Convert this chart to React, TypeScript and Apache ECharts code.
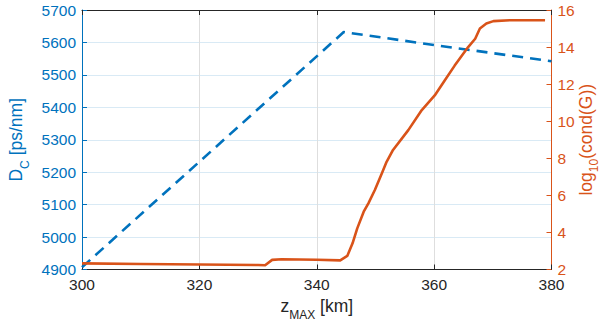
import React, { useEffect, useRef } from "react";
import * as echarts from "echarts";

// Dispersion compensation D_C versus z_MAX (left axis)
const kmDC = [300, 344.6, 360, 380];
const dcValues = [4907, 5632, 5592, 5542];

// log10 of the condition number of G versus z_MAX (right axis)
const kmCond = [
  300, 310, 320, 330, 331.2, 332.4, 334, 340, 344, 345.2, 346.1, 346.9, 348.0,
  348.8, 349.9, 351.1, 351.9, 353.0, 355.6, 357.9, 360.1, 361.8, 363.5, 365.8,
  367.0, 367.8, 368.9, 370.1, 372.9, 378.9,
];
const condValues = [
  2.33, 2.3, 2.27, 2.24, 2.23, 2.52, 2.55, 2.53, 2.49, 2.73, 3.41, 4.22, 5.12,
  5.57, 6.29, 7.19, 7.81, 8.45, 9.52, 10.6, 11.39, 12.2, 13.0, 14.0, 14.45,
  15.0, 15.27, 15.4, 15.45, 15.45,
];

const xTicks = { min: 300, max: 380, interval: 20 };
const leftTicks = { min: 4900, max: 5700, interval: 100 };
const rightTicks = { min: 2, max: 16, interval: 2 };

const BLUE = "#0072BD";
const ORANGE = "#D95319";
const DARK = "#262626";
const FONT = "'Liberation Sans', Arial, Helvetica, sans-serif";
const TICK_SIZE = 15.5;
const NAME_SIZE = 17.5;
const SUB_SIZE = 12;

// Both token kinds sit on the bottom of the line box; the extra bottom
// padding on the main text lifts it, so the subscript ends up lower.
function nameRich(color: string, lift = 6) {
  return {
    m: {
      color,
      fontFamily: FONT,
      fontSize: NAME_SIZE,
      lineHeight: 20,
      verticalAlign: "bottom" as const,
      padding: [0, 0, lift, 0],
    },
    s: {
      color,
      fontFamily: FONT,
      fontSize: SUB_SIZE,
      lineHeight: 14,
      verticalAlign: "bottom" as const,
    },
  };
}

const plain = (v: number) => String(v);

export default function App() {
  const ref = useRef<HTMLDivElement>(null);

  useEffect(() => {
    if (!ref.current) return;
    const chart = echarts.init(ref.current, undefined, { renderer: "svg" });

    const dcData = kmDC.map((x, i) => [x, dcValues[i]]);
    const condData = kmCond.map((x, i) => [x, condValues[i]]);

    chart.setOption({
      animation: false,
      backgroundColor: "#ffffff",
      grid: {
        left: 82,
        right: 53.5,
        top: 10,
        bottom: 57.5,
        containLabel: false,
        outerBoundsMode: "none",
      },
      xAxis: [
        {
          type: "value",
          position: "bottom",
          ...xTicks,
          name: "{m|z}{s|MAX}{m| [km]}",
          nameLocation: "middle",
          nameGap: 25.5,
          nameTextStyle: { rich: nameRich(DARK) },
          axisLine: { show: true, onZero: false, lineStyle: { color: DARK, width: 1 } },
          axisTick: { show: true, inside: true, length: 5, lineStyle: { color: DARK } },
          axisLabel: { color: DARK, fontSize: TICK_SIZE, fontFamily: FONT, margin: 7, formatter: plain },
          splitLine: { show: true, lineStyle: { color: "#dedede", width: 1 } },
        },
        {
          type: "value",
          position: "top",
          ...xTicks,
          axisLine: { show: true, onZero: false, lineStyle: { color: DARK, width: 1 } },
          axisTick: { show: true, inside: true, length: 5, lineStyle: { color: DARK } },
          axisLabel: { show: false },
          splitLine: { show: false },
        },
      ],
      yAxis: [
        {
          type: "value",
          position: "left",
          ...leftTicks,
          name: "{m|D}{s|C}{m| [ps/nm]}",
          nameLocation: "middle",
          nameRotate: 90,
          nameGap: 49,
          nameTextStyle: { rich: nameRich(BLUE) },
          axisLine: { show: true, onZero: false, lineStyle: { color: BLUE, width: 1 } },
          axisTick: { show: true, inside: true, length: 5, lineStyle: { color: BLUE } },
          axisLabel: { color: BLUE, fontSize: TICK_SIZE, fontFamily: FONT, margin: 6, formatter: plain },
          splitLine: { show: true, lineStyle: { color: "#d9eaf5", width: 1 } },
        },
        {
          type: "value",
          position: "right",
          ...rightTicks,
          name: "{m|log}{s|10}{m|(cond(G))}",
          nameLocation: "middle",
          nameRotate: 90,
          nameGap: 28,
          nameMoveOverlap: false,
          nameTextStyle: { rich: nameRich(ORANGE, 5) },
          axisLine: { show: true, onZero: false, lineStyle: { color: ORANGE, width: 1 } },
          axisTick: { show: true, inside: true, length: 5, lineStyle: { color: ORANGE } },
          axisLabel: { color: ORANGE, fontSize: TICK_SIZE, fontFamily: FONT, margin: 6, formatter: plain },
          splitLine: { show: false },
        },
      ],
      series: [
        {
          type: "line",
          xAxisIndex: 0,
          yAxisIndex: 0,
          data: dcData,
          showSymbol: false,
          lineStyle: { color: BLUE, width: 2.6, type: [11, 7], cap: "butt" },
          z: 2,
        },
        {
          type: "line",
          xAxisIndex: 0,
          yAxisIndex: 1,
          data: condData,
          showSymbol: false,
          lineStyle: { color: ORANGE, width: 2.6, join: "round" },
          z: 3,
        },
      ],
    });

    return () => chart.dispose();
  }, []);

  return (
    <div
      ref={ref}
      style={{
        position: "fixed",
        left: 0,
        top: 0,
        width: 605,
        height: 327,
        background: "#ffffff",
      }}
    />
  );
}
